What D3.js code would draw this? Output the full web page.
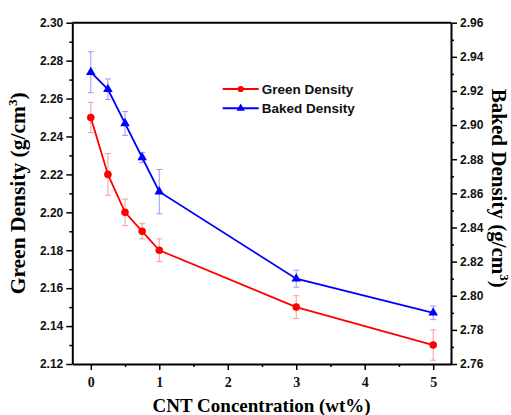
<!DOCTYPE html>
<meta charset="utf-8">
<script src="https://d3js.org/d3.v7.min.js"></script>
<style>
  body { margin: 0; background: white; }
  .tick text { fill: #111; }
</style>
<div id="chart"></div>
<script>
// data
var conc = [0, 0.25, 0.5, 0.75, 1, 3, 5];
var green = [2.25, 2.22, 2.20, 2.19, 2.18, 2.15, 2.13];
var greenErr = [0.008, 0.011, 0.007, 0.004, 0.006, 0.006, 0.008];
var baked = [2.931, 2.921, 2.901, 2.881, 2.861, 2.810, 2.790];
var bakedErr = [0.012, 0.006, 0.007, 0.003, 0.013, 0.005, 0.004];
var xTicks = [0, 1, 2, 3, 4, 5];
var leftTicks = [2.12, 2.14, 2.16, 2.18, 2.20, 2.22, 2.24, 2.26, 2.28, 2.30];
var rightTicks = [2.76, 2.78, 2.80, 2.82, 2.84, 2.86, 2.88, 2.90, 2.92, 2.94, 2.96];

var W = 511, H = 415;
var margin = {top: 22.7, right: 60, bottom: 51, left: 72.3};
var width = W - margin.left - margin.right,
    height = H - margin.top - margin.bottom;

var svg = d3.select("#chart").append("svg")
    .attr("width", W).attr("height", H)
  .append("g")
    .attr("transform", "translate(" + margin.left + "," + margin.top + ")");

var x = d3.scaleLinear().domain([-0.27, 5.26]).range([0, width]);
var yL = d3.scaleLinear().domain([2.12, 2.30]).range([height, 0]);
var yR = d3.scaleLinear().domain([2.76, 2.96]).range([height, 0]);

// minor ticks
var xMinor = d3.range(0.5, 5, 1);
var lMinor = d3.range(2.13, 2.30, 0.02);
var rMinor = d3.range(2.77, 2.96, 0.02);

svg.append("g").attr("transform", "translate(0," + height + ")")
  .call(d3.axisBottom(x).tickValues(xMinor).tickSize(3).tickFormat(""))
  .call(g => g.select(".domain").remove());
svg.append("g")
  .call(d3.axisLeft(yL).tickValues(lMinor).tickSize(3).tickFormat(""))
  .call(g => g.select(".domain").remove());
svg.append("g").attr("transform", "translate(" + width + ",0)")
  .call(d3.axisRight(yR).tickValues(rMinor).tickSize(3).tickFormat(""))
  .call(g => g.select(".domain").remove());

var xAxis = svg.append("g").attr("transform", "translate(0," + height + ")")
  .call(d3.axisBottom(x).tickValues(xTicks).tickSize(6).tickSizeOuter(0).tickPadding(7).tickFormat(d3.format("d")));
xAxis.selectAll("text")
  .style("font-family", "'Liberation Serif', 'Times New Roman', serif")
  .style("font-weight", "bold").style("font-size", "14px");

var lAxis = svg.append("g")
  .call(d3.axisLeft(yL).tickValues(leftTicks).tickSize(6).tickSizeOuter(0).tickPadding(3).tickFormat(d3.format(".2f")));
lAxis.selectAll("text")
  .style("font-family", "'Liberation Sans', Arial, sans-serif")
  .style("font-weight", "bold").style("font-size", "12px");

var rAxis = svg.append("g").attr("transform", "translate(" + width + ",0)")
  .call(d3.axisRight(yR).tickValues(rightTicks).tickSize(6).tickSizeOuter(0).tickPadding(3).tickFormat(d3.format(".2f")));
rAxis.selectAll("text")
  .style("font-family", "'Liberation Sans', Arial, sans-serif")
  .style("font-weight", "bold").style("font-size", "12px");

svg.selectAll(".domain").attr("stroke-width", 2);
svg.selectAll(".tick line").attr("stroke-width", 1.5);

// top frame
svg.append("line")
  .attr("x1", 0).attr("x2", width).attr("y1", 0).attr("y2", 0)
  .attr("stroke", "black").attr("stroke-width", 2);

// axis titles
var serif = "'Liberation Serif', 'Times New Roman', serif";
svg.append("text")
  .attr("x", width / 2).attr("y", height + 48)
  .attr("text-anchor", "middle")
  .style("font-family", serif).style("font-weight", "bold").style("font-size", "19px")
  .text("CNT Concentration (wt%)");

var lt = svg.append("text")
  .attr("transform", "translate(" + (-47) + "," + (height / 2) + ") rotate(-90)")
  .attr("text-anchor", "middle")
  .style("font-family", serif).style("font-weight", "bold").style("font-size", "21.5px");
lt.append("tspan").text("Green Density (g/cm");
lt.append("tspan").attr("dy", -8).style("font-size", "13px").text("3");
lt.append("tspan").attr("dy", 8).text(")");

var rt = svg.append("text")
  .attr("transform", "translate(" + (width + 41) + "," + (height / 2 - 5) + ") rotate(90)")
  .attr("text-anchor", "middle")
  .style("font-family", serif).style("font-weight", "bold").style("font-size", "21px");
rt.append("tspan").text("Baked Density (g/cm");
rt.append("tspan").attr("dy", -8).style("font-size", "13px").text("3");
rt.append("tspan").attr("dy", 8).text(")");

// series
function drawSeries(vals, errs, y, color, light, symbol) {
  var pts = conc.map(function(c, i) { return {x: c, y: vals[i], e: errs[i]}; });
  var eb = svg.append("g").attr("stroke", light).attr("stroke-width", 1);
  pts.forEach(function(d) {
    eb.append("line").attr("x1", x(d.x)).attr("x2", x(d.x))
      .attr("y1", y(d.y - d.e)).attr("y2", y(d.y + d.e));
    eb.append("line").attr("x1", x(d.x) - 3).attr("x2", x(d.x) + 3)
      .attr("y1", y(d.y - d.e)).attr("y2", y(d.y - d.e));
    eb.append("line").attr("x1", x(d.x) - 3).attr("x2", x(d.x) + 3)
      .attr("y1", y(d.y + d.e)).attr("y2", y(d.y + d.e));
  });
  svg.append("path").datum(pts)
    .attr("fill", "none").attr("stroke", color).attr("stroke-width", 1.8)
    .attr("d", d3.line().x(function(d) { return x(d.x); }).y(function(d) { return y(d.y); }));
  svg.selectAll(null).data(pts).enter().append("path")
    .attr("transform", function(d) { return "translate(" + x(d.x) + "," + y(d.y) + ")"; })
    .attr("d", d3.symbol().type(symbol).size(symbol === d3.symbolCircle ? 45 : 40))
    .attr("fill", color);
}
drawSeries(green, greenErr, yL, "#ff0000", "#f59a9a", d3.symbolCircle);
drawSeries(baked, bakedErr, yR, "#0000ff", "#9a9af5", d3.symbolTriangle);

// legend
var legend = [
  {name: "Green Density", color: "#ff0000", sym: d3.symbolCircle},
  {name: "Baked Density", color: "#0000ff", sym: d3.symbolTriangle}
];
var lg = svg.append("g").attr("transform", "translate(" + (222.7 - margin.left) + "," + (89 - margin.top) + ")");
legend.forEach(function(d, i) {
  var g = lg.append("g").attr("transform", "translate(0," + (i * 19.3) + ")");
  g.append("line").attr("x1", 0).attr("x2", 36).attr("stroke", d.color).attr("stroke-width", 2);
  g.append("path").attr("transform", "translate(18,0)")
    .attr("d", d3.symbol().type(d.sym).size(30)).attr("fill", d.color);
  g.append("text").attr("x", 39).attr("y", 4.5)
    .style("font-family", "'Liberation Sans', Arial, sans-serif")
    .style("font-weight", "bold").style("font-size", "13.5px").attr("fill", "#111")
    .text(d.name);
});
</script>
